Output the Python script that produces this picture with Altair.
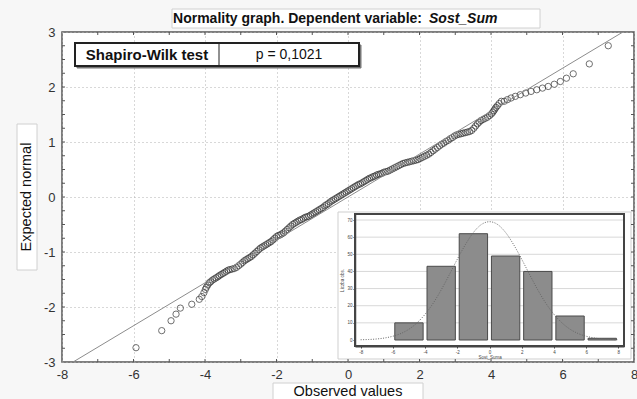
import altair as alt
import pandas as pd

# ---------------- data ----------------
OBS = [-5.93, -5.21, -4.95, -4.81, -4.69, -4.37, -4.16, -4.09,
       -4.03, -3.99, -3.96, -3.92, -3.88, -3.84, -3.79, -3.74, -3.69, -3.64, -3.60, -3.55,
       -3.50, -3.45, -3.40, -3.35, -3.30, -3.24, -3.18, -3.12, -3.06, -3.00,
       -2.95, -2.90, -2.85, -2.80, -2.75, -2.70, -2.65, -2.60, -2.55, -2.50,
       -2.45, -2.40, -2.35, -2.30, -2.25, -2.20, -2.15, -2.10, -2.05, -2.00,
       -1.95, -1.90, -1.85, -1.80, -1.75, -1.70, -1.65, -1.60, -1.55, -1.50,
       -1.45, -1.40, -1.35, -1.30, -1.25, -1.20, -1.15, -1.10, -1.05, -1.00,
       -0.95, -0.90, -0.85, -0.80, -0.75, -0.70, -0.65, -0.60, -0.55, -0.50,
       -0.45, -0.40, -0.35, -0.30, -0.25, -0.20, -0.15, -0.10, -0.05, 0.00,
       0.05, 0.10, 0.15, 0.20, 0.25, 0.30, 0.35, 0.40, 0.45, 0.50,
       0.55, 0.60, 0.65, 0.70, 0.75, 0.80, 0.85, 0.90, 0.95, 1.00,
       1.06, 1.12, 1.18, 1.24, 1.30, 1.36, 1.42, 1.48, 1.54, 1.60,
       1.66, 1.72, 1.78, 1.84, 1.90, 1.96, 2.02,
       2.08, 2.14, 2.20, 2.26, 2.32, 2.38, 2.44, 2.50, 2.56, 2.62,
       2.68, 2.74, 2.80, 2.86, 2.92, 2.98,
       3.04, 3.10, 3.16, 3.22, 3.28, 3.34, 3.40, 3.46, 3.52, 3.57,
       3.62, 3.67, 3.72, 3.78, 3.84, 3.90, 3.96, 4.01, 4.05, 4.08,
       4.11, 4.14, 4.18, 4.23, 4.29,
       4.37, 4.46, 4.56, 4.68, 4.82, 4.97, 5.12, 5.28, 5.44, 5.60,
       5.77, 5.94, 6.11, 6.30, 6.75, 7.28]
EXPECTED = [-2.74, -2.43, -2.25, -2.13, -2.02, -1.95, -1.86, -1.81,
            -1.74, -1.68, -1.64, -1.60, -1.56, -1.54, -1.51, -1.49, -1.47, -1.45, -1.43, -1.41,
            -1.39, -1.37, -1.35, -1.33, -1.32, -1.31, -1.30, -1.28, -1.25, -1.22,
            -1.19, -1.16, -1.14, -1.12, -1.10, -1.08, -1.05, -1.02, -0.99, -0.96,
            -0.93, -0.91, -0.89, -0.87, -0.85, -0.83, -0.81, -0.78, -0.75, -0.72,
            -0.70, -0.69, -0.67, -0.65, -0.62, -0.59, -0.56, -0.53, -0.50, -0.48,
            -0.46, -0.44, -0.42, -0.41, -0.39, -0.37, -0.36, -0.35, -0.33, -0.31,
            -0.29, -0.27, -0.25, -0.23, -0.21, -0.19, -0.16, -0.14, -0.12, -0.09,
            -0.07, -0.05, -0.03, -0.01, 0.01, 0.03, 0.05, 0.07, 0.09, 0.11,
            0.13, 0.15, 0.17, 0.19, 0.21, 0.23, 0.24, 0.26, 0.28, 0.30,
            0.32, 0.34, 0.35, 0.37, 0.38, 0.40, 0.41, 0.42, 0.43, 0.45,
            0.46, 0.47, 0.49, 0.51, 0.53, 0.55, 0.57, 0.59, 0.61, 0.62,
            0.63, 0.64, 0.65, 0.66, 0.67, 0.68, 0.70,
            0.72, 0.74, 0.76, 0.78, 0.81, 0.84, 0.87, 0.90, 0.93, 0.96,
            0.98, 1.01, 1.03, 1.06, 1.08, 1.11,
            1.13, 1.14, 1.15, 1.16, 1.17, 1.18, 1.19, 1.21, 1.25, 1.29,
            1.33, 1.36, 1.39, 1.41, 1.43, 1.45, 1.48, 1.51, 1.54, 1.57,
            1.60, 1.63, 1.66, 1.70, 1.74,
            1.74, 1.77, 1.80, 1.83, 1.86, 1.89, 1.92, 1.95, 1.98, 2.01,
            2.05, 2.10, 2.16, 2.24, 2.42, 2.75]

REF_X = [-7.69, 7.69]
REF_Y = [-3.0, 3.0]

BIN_LO = [-6, -4, -2, 0, 2, 4, 6]
BIN_HI = [-4, -2, 0, 2, 4, 6, 8]
COUNTS = [10, 43, 62, 49, 40, 14, 1]

CURVE_X = [-8, -7.5, -7, -6.5, -6, -5.5, -5, -4.5, -4, -3.5, -3, -2.5, -2, -1.5, -1, -0.5, 0,
           0.5, 1, 1.5, 2, 2.5, 3, 3.5, 4, 4.5, 5, 5.5, 6, 6.5, 7, 7.5, 8]
CURVE_Y = [0.15, 0.3, 0.6, 1.2, 2.2, 3.8, 6.3, 10.0, 15.0, 21.4, 29.2, 38.0, 47.1, 55.6, 62.7, 67.4, 69.0,
           67.4, 62.7, 55.6, 47.1, 38.0, 29.2, 21.4, 15.0, 10.0, 6.3, 3.8, 2.2, 1.2, 0.6, 0.3, 0.15]

X_LABELS = [-8, -6, -4, -2, 0, 2, 4, 6, 8]
Y_LABELS = [-3, -2, -1, 0, 1, 2, 3]
X_MINOR = [-7, -6, -5, -4, -3, -2, -1, 0, 1, 2, 3, 4, 5, 6, 7]
Y_MINOR = [-2.75, -2.5, -2.25, -2, -1.75, -1.5, -1.25, -1, -0.75, -0.5, -0.25, 0,
           0.25, 0.5, 0.75, 1, 1.25, 1.5, 1.75, 2, 2.25, 2.5, 2.75]
INSET_X_LABELS = [-8, -6, -4, -2, 0, 2, 4, 6, 8]
INSET_Y_LABELS = [0, 10, 20, 30, 40, 50, 60, 70]
INSET_GRID = [10, 20, 30, 40, 50, 60, 70]

TITLE_MAIN = "Normality graph. Dependent variable:"
TITLE_VAR = "Sost_Sum"
X_TITLE = "Observed values"
Y_TITLE = "Expected normal"
TEST_NAME = "Shapiro-Wilk test"
TEST_P = "p = 0,1021"
INSET_X_TITLE = "Sost_Suma"
INSET_Y_TITLE = "Liczba obs."

FONT = "Liberation Sans"
W, H = 572, 330
HYPHEN = "'' + datum.value"

# ---------------- main chart ----------------
xs = alt.Scale(domain=[-8, 8], nice=False, zero=False)
ys = alt.Scale(domain=[-3, 3], nice=False, zero=False)

pts_df = pd.DataFrame({"obs": OBS, "exp": EXPECTED})
ref_df = pd.DataFrame({"obs": REF_X, "exp": REF_Y})

x_axis = alt.Axis(values=X_LABELS, grid=True, gridDash=[1, 3], gridColor="#b0b0b0",
                  ticks=False, domain=False, labels=False, title=None)
y_axis = alt.Axis(values=Y_LABELS, grid=True, gridDash=[1, 3], gridColor="#b0b0b0",
                  ticks=False, domain=False, labelFontSize=13, labelColor="#333333",
                  labelPadding=7, labelFont=FONT, title=None, labelExpr=HYPHEN,
                  labelOverlap=False, labelBound=False, labelFlush=False)

points = alt.Chart(pts_df).mark_point(shape="circle", filled=False, size=40,
                                      color="#333333", strokeWidth=1).encode(
    x=alt.X("obs:Q", scale=xs, axis=x_axis),
    y=alt.Y("exp:Q", scale=ys, axis=y_axis),
)
refline = alt.Chart(ref_df).mark_line(color="#8c8c8c", strokeWidth=1, clip=True).encode(
    x=alt.X("obs:Q", scale=xs), y=alt.Y("exp:Q", scale=ys))

def one(text=""):
    return pd.DataFrame({"t": [text]})

def box(x, x2, y, y2, stroke="#d0d0d0", sw=1, fill="white"):
    return alt.Chart(one()).mark_rect(fill=fill, stroke=stroke, strokeWidth=sw).encode(
        x=alt.value(x), x2=alt.value(x2), y=alt.value(y), y2=alt.value(y2))

def label(text, x, y, size=14, weight="normal", style="normal", align="center", angle=0):
    return alt.Chart(one(text)).mark_text(font=FONT, fontSize=size, fontWeight=weight,
                                          fontStyle=style, align=align, baseline="middle",
                                          angle=angle, color="#111111").encode(
        x=alt.value(x), y=alt.value(y), text="t:N")

# title
title_box = box(110, 478, -23, -4)
title_a = label(TITLE_MAIN, 360, -13.5, weight="bold", align="right")
title_b = label(TITLE_VAR, 367, -13.5, weight="bold", style="italic", align="left")
# axis titles
ytitle_box = box(-45, -25, 92, 238)
ytitle = label(Y_TITLE, -35, 165, size=14.5, angle=270)
xtitle_box = box(211, 361, 351, 368)
xtitle = label(X_TITLE, 286, 359.5, size=14.5)
# Shapiro-Wilk box
sw_shadow = box(15, 299, 13, 36, stroke="#777777", sw=1, fill="#777777")
sw_box = box(13, 297, 11, 34, stroke="#222222", sw=2)
sw_div = alt.Chart(one()).mark_rule(color="#222222", strokeWidth=1).encode(
    x=alt.value(157), y=alt.value(11), y2=alt.value(34))
sw_name = label(TEST_NAME, 85, 22.5, size=15, weight="bold")
sw_p = label(TEST_P, 227, 22.5, size=14)

main = alt.layer(points, refline, title_box, title_a, title_b, ytitle_box, ytitle,
                 xtitle_box, xtitle, sw_shadow, sw_box, sw_div, sw_name, sw_p)

# ---------------- inset histogram ----------------
ixs = alt.Scale(domain=[-8.35, 8.35], range=[293, 562], nice=False, zero=False)
iys = alt.Scale(domain=[-3.5, 73.5], range=[314, 182], nice=False, zero=False)

bars_df = pd.DataFrame({"lo": BIN_LO, "hi": BIN_HI, "n": COUNTS})
curve_df = pd.DataFrame({"v": CURVE_X, "d": CURVE_Y})
igrid_df = pd.DataFrame({"g": INSET_GRID})

ix_axis = alt.Axis(orient="bottom", offset=-16, values=INSET_X_LABELS, grid=False, zindex=2,
                   labelFontSize=4.5, labelColor="#444444", tickSize=2, tickColor="#444444",
                   domainColor="#444444", domainWidth=2, labelPadding=1, labelExpr=HYPHEN,
                   title=INSET_X_TITLE, titleFontSize=4.5, titleFontWeight="normal",
                   titleColor="#444444", titlePadding=1, labelFont=FONT, titleFont=FONT)
iy_axis = alt.Axis(orient="left", offset=-293, values=INSET_Y_LABELS, grid=False, zindex=2,
                   labelFontSize=4.5, labelColor="#444444", tickSize=2, tickColor="#444444",
                   domainColor="#444444", domainWidth=1.5, labelPadding=1,
                   title=INSET_Y_TITLE, titleFontSize=4.5, titleFontWeight="normal",
                   titleColor="#444444", titlePadding=2, labelFont=FONT, titleFont=FONT)

panel = box(276, 569, 180, 327, stroke="#cfcfcf", sw=1)
igrid = alt.Chart(igrid_df).mark_rule(color="#d8d8d8", strokeWidth=1).encode(
    y=alt.Y("g:Q", scale=iys, axis=iy_axis), x=alt.value(293), x2=alt.value(562))
bars = alt.Chart(bars_df).transform_calculate(
    a="datum.lo + 0.12", b="datum.hi - 0.12", z="0").mark_rect(
    fill="#8c8c8c", stroke="#4a4a4a", strokeWidth=1).encode(
    x=alt.X("a:Q", scale=ixs, axis=ix_axis), x2="b:Q",
    y=alt.Y("n:Q", scale=iys), y2="z:Q")
curve = alt.Chart(curve_df).mark_line(color="#666666", strokeWidth=1, strokeDash=[1, 1.5],
                                      interpolate="monotone").encode(
    x=alt.X("v:Q", scale=ixs), y=alt.Y("d:Q", scale=iys))
frame = box(293, 562, 182, 314, stroke="#444444", sw=2, fill="transparent")

inset = alt.layer(panel, igrid, bars, curve, frame)

# ---------------- inward ticks on all four sides, x labels drawn on top ----------------
xt_df = pd.DataFrame({"v": X_MINOR})
yt_df = pd.DataFrame({"v": Y_MINOR})
tick_col = "#555555"
xlab_axis = alt.Axis(orient="bottom", values=X_LABELS, grid=False, ticks=False, domain=False,
                     labelFontSize=13, labelColor="#333333", labelPadding=6, labelFont=FONT,
                     title=None, labelExpr=HYPHEN, labelOverlap=False, labelBound=False,
                     labelFlush=False, zindex=1)
tb = alt.Chart(xt_df).mark_rule(color=tick_col).encode(
    x=alt.X("v:Q", scale=xs, axis=xlab_axis), y=alt.value(H), y2=alt.value(H - 3))
tt = alt.Chart(xt_df).mark_rule(color=tick_col).encode(
    x=alt.X("v:Q", scale=xs), y=alt.value(0), y2=alt.value(3))
tl = alt.Chart(yt_df).mark_rule(color=tick_col).encode(
    y=alt.Y("v:Q", scale=ys, axis=None), x=alt.value(0), x2=alt.value(3))
tr = alt.Chart(yt_df).mark_rule(color=tick_col).encode(
    y=alt.Y("v:Q", scale=ys, axis=None), x=alt.value(W), x2=alt.value(W - 3))
ticks = alt.layer(tb, tt, tl, tr)

chart = alt.layer(main, inset, ticks).resolve_scale(
    x="independent", y="independent"
).properties(
    width=W, height=H, autosize="none",
    padding={"left": 62, "top": 32, "right": 3, "bottom": 37},
    background="#f7f7f7",
).configure_view(stroke="#555555", strokeWidth=1.5, fill="white")

chart.save("out.html", embed_options={"renderer": "svg", "actions": False})
